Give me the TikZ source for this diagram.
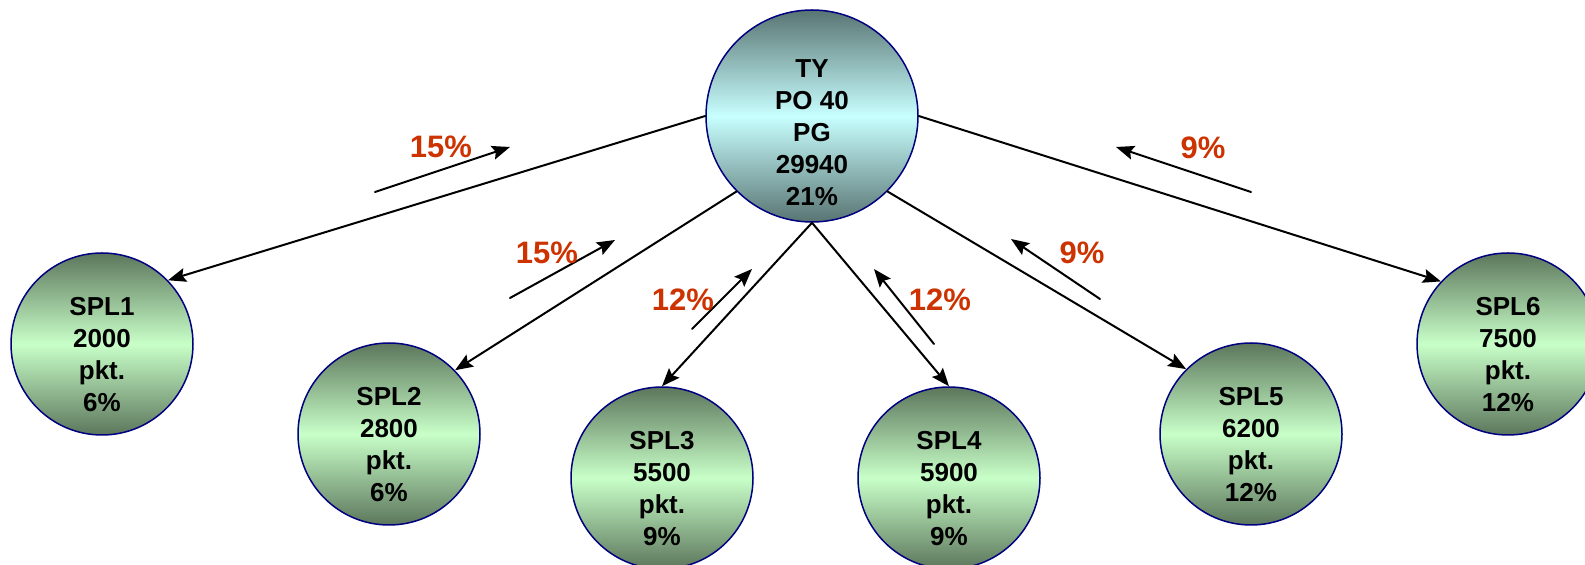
\documentclass[tikz,border=0pt]{standalone}
\usepackage{fontspec}
\setmainfont{Liberation Sans}
\usetikzlibrary{arrows.meta}
\definecolor{rim}{RGB}{0,0,128}
\definecolor{pctred}{RGB}{204,51,0}
\definecolor{leafdark}{RGB}{92,118,92}
\definecolor{leaflight}{RGB}{200,255,200}
\definecolor{rootdark}{RGB}{88,116,114}
\definecolor{rootlight}{RGB}{200,255,255}
\tikzset{
	spl/.style={circle,draw=rim,line width=0.75pt,minimum size=91pt,inner sep=0pt,
		top color=leafdark,bottom color=leafdark,middle color=leaflight},
	hub/.style={spl,minimum size=106pt,
		top color=rootdark,bottom color=rootdark,middle color=rootlight},
	spltext/.style={align=center,font=\bfseries\fontsize{13}{16}\selectfont},
	pct/.style={text=pctred,font=\bfseries\fontsize{15.5}{18}\selectfont},
}
\begin{document}
\begin{tikzpicture}[x=0.5pt,y=-0.5pt,line join=round,line cap=round,line width=1pt,
	>={Stealth[length=9pt,width=7pt,inset=1.5pt]}]
			\useasboundingbox (0,0) rectangle (1585,565);
			\node[hub] (TY) at (812,116) {};
			\node[spltext] (TYtext) at ([yshift=-8.5pt]TY.center) {TY\\PO 40\\PG\\29940\\21\%};
			\foreach \n/\x/\y/\t in {SPL1/102/344/{2000\\pkt.\\6\%},SPL2/389/434/{2800\\pkt.\\6\%},
				SPL3/662/478/{5500\\pkt.\\9\%},SPL4/949/478/{5900\\pkt.\\9\%},
				SPL5/1251/434/{6200\\pkt.\\12\%},SPL6/1508/344/{7500\\pkt.\\12\%}}
			{
				\node[spl] (\n) at (\x,\y) {};
				\node[spltext] (\n text) at ([yshift=-5.5pt]\n.center) {\n\\\t};
			}
			% from TY to the SPL circles
			\draw[->] (TY.180)--(SPL1.44);
			\draw[->] (TY.225)--(SPL2.44);
			\draw[->] (TY.270)--(SPL3.90);
			\draw[->] (TY.270)--(SPL4.90);
			\draw[->] (TY.315)--(SPL5.135);
			\draw[->] (TY.0)--(SPL6.137);
			% short arrows with shares
			\coordinate (a1s) at (375,192); \coordinate (a1e) at (510,147);
			\coordinate (a2s) at (510,298); \coordinate (a2e) at (615,240);
			\coordinate (a3s) at (692,329); \coordinate (a3e) at (752,269);
			\coordinate (a4s) at (934,344); \coordinate (a4e) at (874,269);
			\coordinate (a5s) at (1100,299); \coordinate (a5e) at (1011,239);
			\coordinate (a6s) at (1251,192); \coordinate (a6e) at (1116,147);
			\foreach \i in {1,...,6} \draw[->] (a\i s)--(a\i e);
			\path 
			(441,147) node[pct] (p1){15\%}
			(547,253) node[pct] (p2){15\%}
			(683,300) node[pct] (p3){12\%}
			(940,300) node[pct] (p4){12\%}
			(1082,253) node[pct] (p5){9\%}
			(1203,148) node[pct] (p6){9\%}
			;
	\end{tikzpicture}
\end{document}
